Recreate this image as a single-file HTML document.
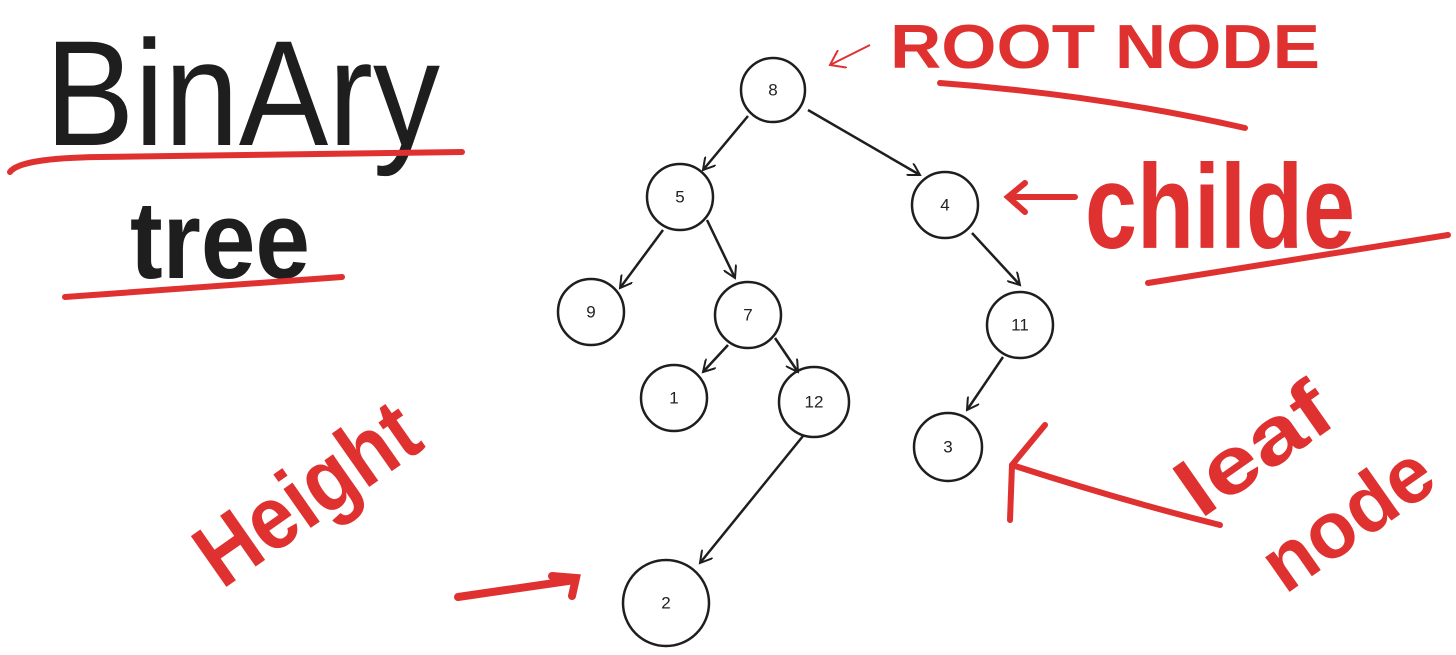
<!DOCTYPE html>
<html><head><meta charset="utf-8"><style>
html,body{margin:0;padding:0;background:#fff;}
svg{display:block;}
.n{font-family:"Liberation Sans",sans-serif;font-size:17px;fill:#222;text-anchor:middle;dominant-baseline:central;}
.r{font-family:"Liberation Sans",sans-serif;font-weight:bold;fill:#e03131;}
</style></head><body>
<svg width="1456" height="655" viewBox="0 0 1456 655" xmlns="http://www.w3.org/2000/svg">
<defs>
<marker id="a" markerWidth="14" markerHeight="14" refX="12" refY="7" orient="auto" markerUnits="userSpaceOnUse">
<path d="M0,0 L12,7 L0,14" fill="none" stroke="#1e1e1e" stroke-width="2"/>
</marker>
<marker id="ar" markerWidth="20" markerHeight="20" refX="14" refY="10" orient="auto" markerUnits="userSpaceOnUse">
<path d="M0,0 L14,10 L0,20" fill="none" stroke="#e03131" stroke-width="2"/>
</marker>
</defs>
<g fill="none" stroke="#1e1e1e" stroke-width="2.5">
<circle cx="773" cy="90" r="32"/>
<circle cx="680" cy="197" r="33"/>
<circle cx="945" cy="205" r="33"/>
<circle cx="591" cy="312" r="33"/>
<circle cx="748" cy="315" r="33"/>
<circle cx="1020" cy="325" r="33"/>
<circle cx="674" cy="398" r="33"/>
<circle cx="814" cy="402" r="35"/>
<circle cx="948" cy="447" r="34"/>
<circle cx="666" cy="603" r="43"/>
<g marker-end="url(#a)">
<line x1="748" y1="116" x2="703" y2="170"/>
<line x1="808" y1="110" x2="920" y2="175"/>
<line x1="663" y1="230" x2="620" y2="288"/>
<line x1="707" y1="220" x2="735" y2="278"/>
<line x1="728" y1="345" x2="703" y2="372"/>
<line x1="775" y1="338" x2="798" y2="372"/>
<line x1="972" y1="233" x2="1020" y2="285"/>
<line x1="1003" y1="357" x2="967" y2="410"/>
<line x1="803" y1="436" x2="700" y2="563"/>
</g>
</g>
<text class="n" x="773" y="90">8</text>
<text class="n" x="680" y="197">5</text>
<text class="n" x="945" y="205">4</text>
<text class="n" x="591" y="312">9</text>
<text class="n" x="748" y="315">7</text>
<text class="n" x="1020" y="325">11</text>
<text class="n" x="674" y="398">1</text>
<text class="n" x="814" y="402">12</text>
<text class="n" x="948" y="447">3</text>
<text class="n" x="666" y="603">2</text>

<text x="45" y="145" font-family="Liberation Sans,sans-serif" font-size="150" fill="#1e1e1e" textLength="395" lengthAdjust="spacingAndGlyphs">BinAry</text>
<text x="130" y="278" font-family="Liberation Sans,sans-serif" font-weight="bold" font-size="110" fill="#1e1e1e" textLength="180" lengthAdjust="spacingAndGlyphs">tree</text>

<g fill="none" stroke="#e03131" stroke-width="6" stroke-linecap="round">
<path d="M10,172 Q20,158 100,157 L462,152"/>
<path d="M65,297 L342,277"/>
<path d="M940,83 Q1100,95 1245,128"/>
<path d="M1148,283 L1448,235"/>
<path d="M1075,197 L1010,197 M1025,183 L1008,197 L1025,212"/>
<path d="M1010,520 L1012,465 L1045,425 M1012,465 Q1120,500 1220,525"/>
<path d="M458,597 L575,580 M552,576 L576,578 L572,596" stroke-width="8"/>
</g>
<line x1="870" y1="45" x2="830" y2="65" stroke="#e03131" stroke-width="2" marker-end="url(#ar)"/>

<text class="r" x="890" y="68" font-size="62" textLength="430" lengthAdjust="spacingAndGlyphs">ROOT NODE</text>
<text class="r" x="1085" y="248" font-size="120" textLength="270" lengthAdjust="spacingAndGlyphs">childe</text>
<text class="r" font-size="80" transform="translate(1200,520) rotate(-35)" textLength="170" lengthAdjust="spacingAndGlyphs">leaf</text>
<text class="r" font-size="80" transform="translate(1285,595) rotate(-35)" textLength="190" lengthAdjust="spacingAndGlyphs">node</text>
<text class="r" font-size="90" transform="translate(222,590) rotate(-35)" textLength="250" lengthAdjust="spacingAndGlyphs">Height</text>
</svg>
</body></html>
